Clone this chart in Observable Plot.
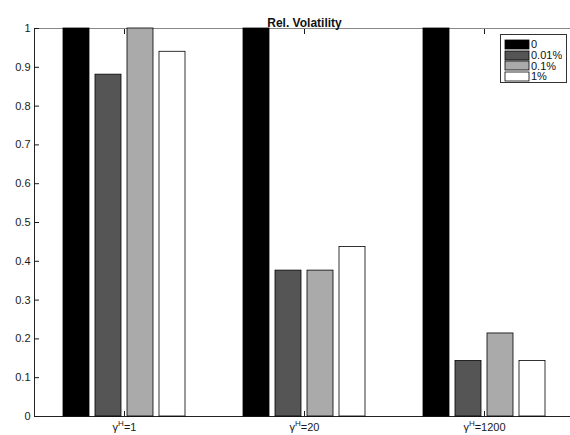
<!DOCTYPE html>
<html><head><meta charset="utf-8">
<script src="https://cdn.jsdelivr.net/npm/d3@7"></script>
<script src="https://cdn.jsdelivr.net/npm/@observablehq/plot@0.6"></script>
<style>
html,body{margin:0;padding:0;background:#fff;overflow:hidden}
#wrap{position:relative;width:570px;height:435px;overflow:hidden;font-family:"Liberation Sans",Arial,sans-serif}
#wrap > svg{max-width:none !important;display:block}
#legend{position:absolute;left:500px;top:34px;width:67px;height:49px;border:1px solid #333;background:#fff;box-sizing:border-box;padding:4px 0 0 4px}
</style></head><body><div id="wrap"><div id="legend"></div></div>
<script>
const title = "Rel. Volatility";
const groups = ["1", "20", "1200"];
const series = ["0", "0.01%", "0.1%", "1%"];
const valsS0 = [1, 1, 1];
const valsS001 = [0.881, 0.376, 0.143];
const valsS01 = [1.0, 0.376, 0.214];
const valsS1 = [0.94, 0.437, 0.143];
const colors = ["#000000", "#555555", "#aaaaaa", "#ffffff"];
const yTicks = [0, 0.1, 0.2, 0.3, 0.4, 0.5, 0.6, 0.7, 0.8, 0.9, 1];

const seriesValues = [valsS0, valsS001, valsS01, valsS1];
const data = groups.flatMap((g, i) => series.map((s, j) => ({group: g, series: s, value: seriesValues[j][i]})));

const font = "'Liberation Sans', Arial, sans-serif";
const chart = Plot.plot({
  width: 575, height: 435,
  marginLeft: 33, marginRight: 0.5, marginTop: 28, marginBottom: 19,
  style: {fontFamily: font, fontSize: "11px", background: "white", overflow: "visible", color: "#1a1a1a", maxWidth: "none"},
  fx: {domain: groups, padding: 0, axis: null, label: null},
  x: {domain: series, paddingInner: 0.18, paddingOuter: 0.825, axis: null},
  y: {domain: [0, 1], axis: null},
  color: {domain: series, range: colors},
  marks: [
    Plot.ruleY([1], {stroke: "#888"}),
    Plot.ruleY([0], {stroke: "#222"}),
    Plot.frame({anchor: "left", fx: [groups[0]], stroke: "#222"}),
    Plot.barY(data, {fx: "group", x: "series", y: "value", fill: "series", stroke: "#000", strokeWidth: 0.8}),
    Plot.axisY({anchor: "left", ticks: yTicks, tickSize: -5, tickPadding: 9, tickFormat: d => String(d), label: null, fontSize: 11}),
    Plot.axisY({anchor: "right", ticks: yTicks, tickSize: -5, tickFormat: () => "", label: null}),
    Plot.axisFx({anchor: "bottom", tickSize: -5, tickPadding: 12, label: null, fontSize: 11}),
    Plot.axisFx({anchor: "top", tickSize: -5, tickFormat: () => "", label: null}),
    Plot.text([title], {fx: [groups[1]], text: d => d, frameAnchor: "top", dy: -10, fontWeight: "bold", fontSize: 12, fill: "#111"})
  ]
});
document.getElementById("wrap").prepend(chart);

// superscript tick labels: γ^H=value
d3.select(chart).selectAll('g[aria-label="fx-axis tick label"] text').each(function () {
  const g = this.textContent;
  if (!g) return;
  const t = d3.select(this);
  t.text(null);
  t.append("tspan").text("γ");
  t.append("tspan").attr("dy", -5).attr("font-size", 8).text("H");
  t.append("tspan").attr("dy", 5).text("=" + g);
});

const leg = Plot.legend({
  color: {domain: series, range: colors},
  legend: "swatches", columns: 1, swatchWidth: 24, swatchHeight: 9,
  style: {fontFamily: font, fontSize: "11px", lineHeight: "10px", margin: "0", color: "#111", background: "transparent"}
});
leg.style.margin = "0";
leg.querySelectorAll("svg").forEach(s => {
  s.style.marginRight = "2px"; s.style.overflow = "visible";
  const item = s.parentNode;
  item.style.height = "10.7px"; item.style.paddingBottom = "0"; item.style.boxSizing = "border-box";
});
leg.querySelectorAll("rect").forEach(r => { r.setAttribute("stroke", "#000"); r.setAttribute("stroke-width", "0.8"); });
document.getElementById("legend").appendChild(leg);
</script>
</body></html>
